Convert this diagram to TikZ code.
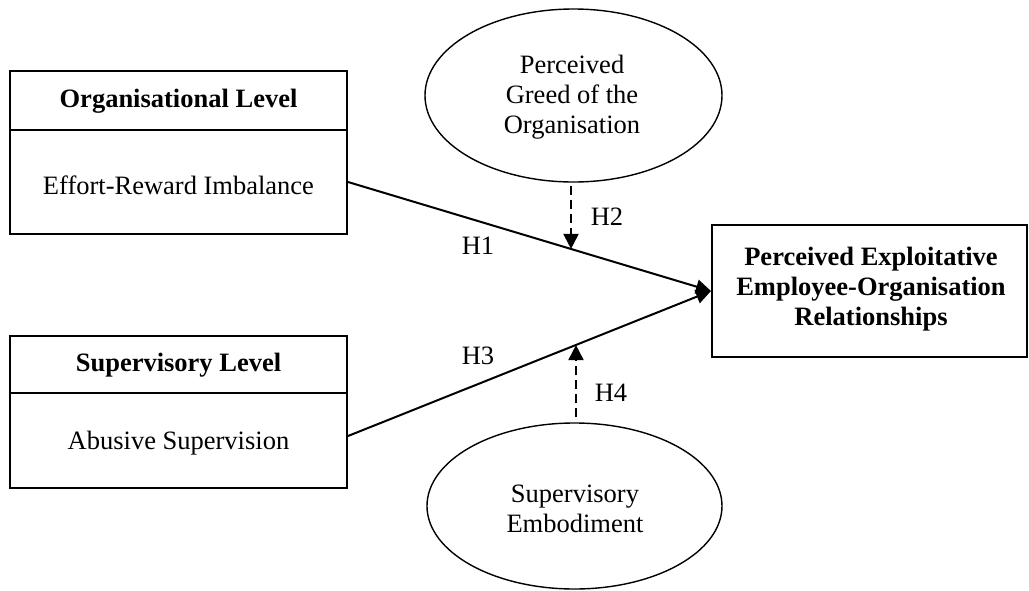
\documentclass[tikz,border=0pt]{standalone}
\usepackage{fontspec}
\setmainfont{Liberation Serif}
\usetikzlibrary{arrows.meta,shapes.geometric,calc}
\begin{document}
\begin{tikzpicture}[x=0.5pt,y=-0.5pt,
  every node/.style={font=\fontsize{13.25}{15}\selectfont},
  box/.style={draw, line width=1pt, inner sep=0pt, minimum width=168.5pt},
  oval/.style={draw, ellipse, line width=0.7pt, inner sep=0pt},
  txt/.style={anchor=base, align=center, inner sep=0pt},
  btxt/.style={txt, font=\fontsize{13.25}{15}\selectfont\bfseries},
  path/.style={line width=1pt, -{Triangle[length=7.5pt,width=7pt]}},
  moder/.style={line width=1pt, dash pattern=on 4.5pt off 2.5pt, -{Triangle[length=7.5pt,width=7.5pt]}}
]
\useasboundingbox (0,0) rectangle (1029,590);

% left boxes
\node[box, minimum height=29.5pt] (orgH) at (178.5,100.5) {};
\node[box, minimum height=52pt]   (orgB) at (178.5,182) {};
\node[box, minimum height=28.5pt] (supH) at (178.5,364.5) {};
\node[box, minimum height=47.5pt] (supB) at (178.5,440.5) {};
% outcome box
\node[box, minimum width=157.5pt, minimum height=66pt] (out) at (869.5,291) {};
% ellipses
\node[oval, minimum width=148.5pt, minimum height=86.5pt] (greed) at (573.5,95.5) {};
\node[oval, minimum width=147.5pt, minimum height=83pt] (emb) at (574.5,506) {};

% texts (base anchor = baseline of the last line)
\node[btxt] (orgHT) at (178.5,107) {Organisational Level};
\node[txt]  (orgBT) at (178.5,194) {Effort-Reward Imbalance};
\node[btxt] (supHT) at (178.5,371) {Supervisory Level};
\node[txt]  (supBT) at (178.5,449) {Abusive Supervision};
\node[btxt] (outT) at (871,325) {Perceived Exploitative\\Employee-Organisation\\Relationships};
\node[txt] (greedT) at (572,133) {Perceived\\Greed of the\\Organisation};
\node[txt] (embT) at (575,532) {Supervisory\\Embodiment};

% connectors
\draw[path] (orgB.east) -- (out.west);
\draw[path] ([yshift=2.25pt]supB.east) -- (out.west);

\coordinate (m1) at ($(orgB.east)!0.614!(out.west)$);
\coordinate (m2) at ($([yshift=2.25pt]supB.east)!0.627!(out.west)$);
\draw[moder, shorten <=1.5pt] ([xshift=-1.25pt]greed.south) -- ([xshift=-1.25pt]greed.south |- m1);
\draw[moder, shorten <=2.5pt] ([xshift=0.75pt]emb.north) -- ([xshift=0.75pt]emb.north |- m2);

% labels
\node[txt] (h1) at (478,254) {H1};
\node[txt] (h2) at (607,225) {H2};
\node[txt] (h3) at (478,364) {H3};
\node[txt] (h4) at (611,401) {H4};
\end{tikzpicture}
\end{document}
